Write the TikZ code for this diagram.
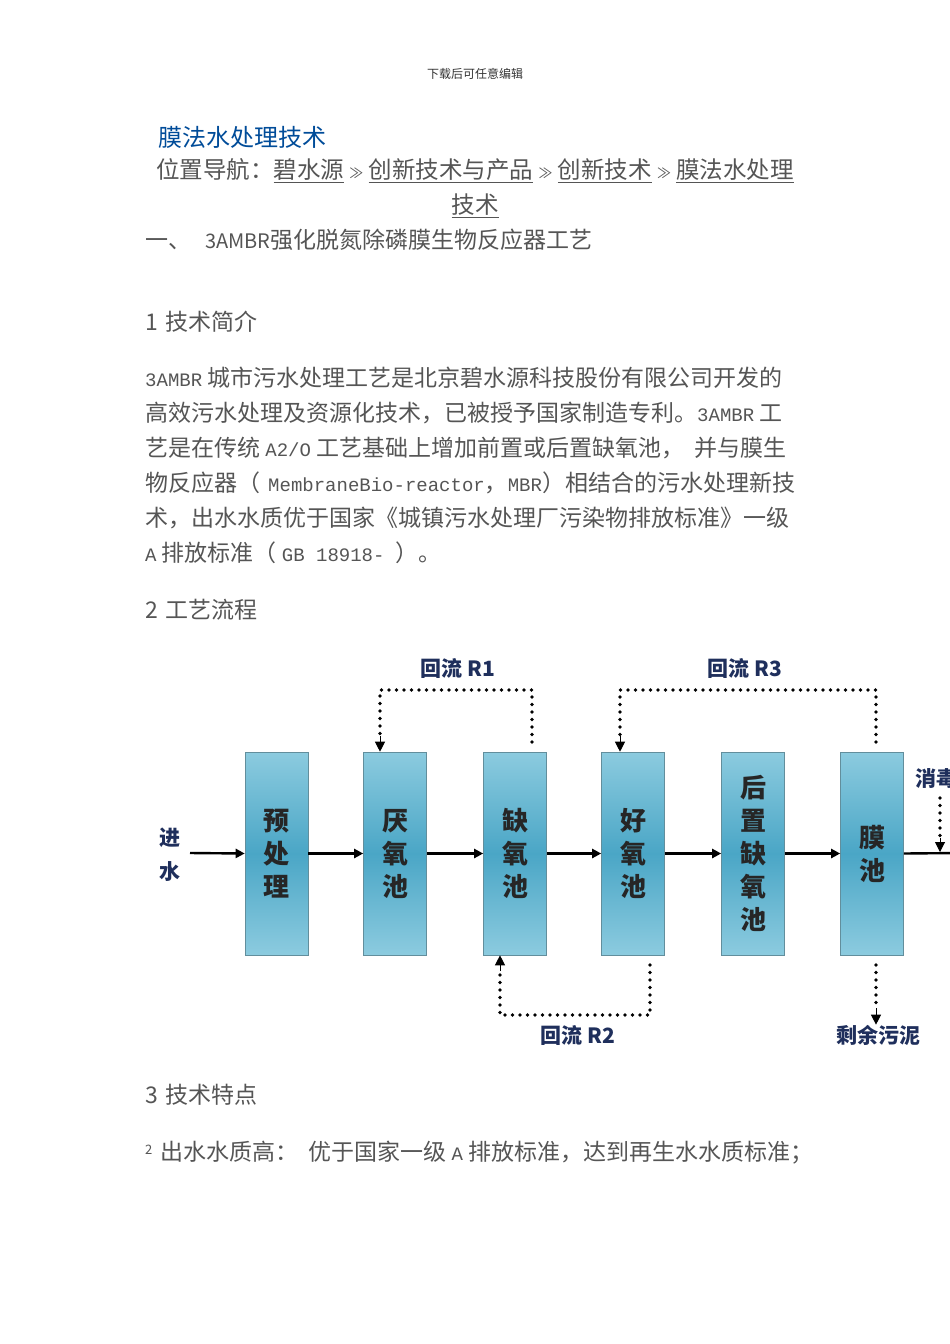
\documentclass[tikz,border=0pt]{standalone}
\usepackage{fontspec}
\setmainfont{Noto Sans CJK SC}
\newfontfamily\cjk{Noto Sans CJK SC}
\newfontfamily\mono{Liberation Mono}
\usetikzlibrary{arrows.meta}
\definecolor{txt}{HTML}{555555}
\definecolor{navy}{HTML}{1F2F5C}
\definecolor{boxmid}{HTML}{4AA6C6}
\definecolor{boxedge}{HTML}{8CCBDF}
\newcommand{\mn}[1]{{\mono\fontsize{19}{19}\selectfont #1}}
\begin{document}
\begin{tikzpicture}[x=1pt,y=-1pt,
  body/.style={anchor=west,inner sep=0,text=txt,font=\fontsize{23}{23}\selectfont},
  pool/.style={draw=boxedge!70!black,line width=0.6pt,minimum width=63pt,minimum height=203pt,
     top color=boxedge,bottom color=boxedge,middle color=boxmid,
     font=\bfseries\fontsize{26}{33}\selectfont,text=black!85,align=center,inner sep=0},
  flow/.style={-{Triangle[length=9pt,width=9pt]},line width=2.4pt,black},
  rec/.style={line width=3.6pt,dash pattern=on 0pt off 7.5pt,black,line cap=round},
  lab/.style={font=\bfseries\fontsize{21}{21}\selectfont,text=navy,inner sep=0}]
\useasboundingbox (0,0) rectangle (950,1344);
\fill[white] (0,0) rectangle (950,1344);
\begin{scope}
\clip (0,0) rectangle (950,1344);
% header
\node[inner sep=0,font=\fontsize{12}{12}\selectfont,text=black!80] (hd) at (475,74) {下载后可任意编辑};
\node[anchor=west,inner sep=0,font=\fontsize{24}{24}\selectfont,text=blue!50!cyan!60!black] (title) at (158,137) {膜法水处理技术};
\node[inner sep=0,font=\fontsize{23.5}{23.5}\selectfont,text=txt] (nav) at (475,171) {位置导航：\underline{碧水源} {\fontsize{14}{14}\selectfont ≫} \underline{创新技术与产品} {\fontsize{14}{14}\selectfont ≫} \underline{创新技术} {\fontsize{14}{14}\selectfont ≫} \underline{膜法水处理}};
\node[inner sep=0,font=\fontsize{23.5}{23.5}\selectfont,text=txt] (nav2) at (475,206) {\underline{技术}};
\node[body] (h1) at (145,240) {一、\hspace{14pt}{\fontsize{20}{20}\selectfont 3AMBR}强化脱氮除磷膜生物反应器工艺};
\node[body] (s1) at (145,322) {1\hspace{8pt}技术简介};
\node[body] (p1) at (145,378) {\mn{3AMBR} 城市污水处理工艺是北京碧水源科技股份有限公司开发的};
\node[body] (p2) at (145,413) {高效污水处理及资源化技术，已被授予国家制造专利。\mn{3AMBR} 工};
\node[body] (p3) at (145,448) {艺是在传统 \mn{A2/O} 工艺基础上增加前置或后置缺氧池，\hspace{10pt}并与膜生};
\node[body] (p4) at (145,483) {物反应器（\hspace{8pt}\mn{MembraneBio-reactor}，\mn{MBR}）相结合的污水处理新技};
\node[body] (p5) at (145,518) {术，出水水质优于国家《城镇污水处理厂污染物排放标准》一级};
\node[body] (p6) at (145,553) {\mn{A} 排放标准（ \mn{GB 18918- }）。};
\node[body] (s2) at (145,610) {2\hspace{8pt}工艺流程};
\node[body] (s3) at (145,1095) {3\hspace{8pt}技术特点};
\node[body] (p7) at (145,1153) {{\fontsize{13}{13}\selectfont\raisebox{6pt}{2}}\hspace{8pt}出水水质高：\hspace{10pt}优于国家一级 \mn{A} 排放标准，达到再生水水质标准；};
% diagram
\node[pool] (b1) at (276.5,853.5) {预\\处\\理};
\node[pool] (b2) at (395,853.5) {厌\\氧\\池};
\node[pool] (b3) at (515,853.5) {缺\\氧\\池};
\node[pool] (b4) at (633,853.5) {好\\氧\\池};
\node[pool] (b5) at (753,853.5) {后\\置\\缺\\氧\\池};
\node[pool] (b6) at (872,853.5) {膜\\池};
\node[lab,align=center,font=\bfseries\fontsize{21}{34}\selectfont] (in) at (170,855) {进\\水};
\coordinate (inS) at (190,853);
\draw[flow] (inS) -- (b1.west);
\draw[flow] (b1) -- (b2);
\draw[flow] (b2) -- (b3);
\draw[flow] (b3) -- (b4);
\draw[flow] (b4) -- (b5);
\draw[flow] (b5) -- (b6);
\coordinate (outE) at (960,853);
\draw[line width=2.4pt] (b6.east) -- (outE);
% R1
\node[lab] (r1) at (458,668) {回流 R1};
\draw[rec] (532,742) -- (532,690) -- (380,690) -- (380,736) coordinate (r1b);
\draw[-{Triangle[length=10pt,width=10pt]},line width=1pt] (r1b) -- (b2.north -| 380,0);
% R3
\node[lab] (r3) at (745,668) {回流 R3};
\draw[rec] (876,742) -- (876,690) -- (620,690) -- (620,736) coordinate (r3b);
\draw[-{Triangle[length=10pt,width=10pt]},line width=1pt] (r3b) -- (b4.north -| 620,0);
% R2
\node[lab] (r2) at (578,1035) {回流 R2};
\draw[rec] (650,965) -- (650,1015) -- (500,1015) -- (500,971) coordinate (r2b);
\draw[-{Triangle[length=10pt,width=10pt]},line width=1pt] (r2b) -- (b3.south -| 500,0);
% sludge
\node[lab] (sl) at (878,1035) {剩余污泥};
\draw[rec] (876,965) -- (876,1008) coordinate (slb);
\draw[-{Triangle[length=10pt,width=10pt]},line width=1pt] (slb) -- (sl.north -| 876,0);
% disinfection
\node[lab,anchor=west] (xd) at (915,778) {消毒};
\draw[rec] (940,798) -- (940,838) coordinate (xdb);
\draw[-{Triangle[length=10pt,width=10pt]},line width=1pt] (xdb) -- (940,852);
\end{scope}
\end{tikzpicture}
\end{document}
